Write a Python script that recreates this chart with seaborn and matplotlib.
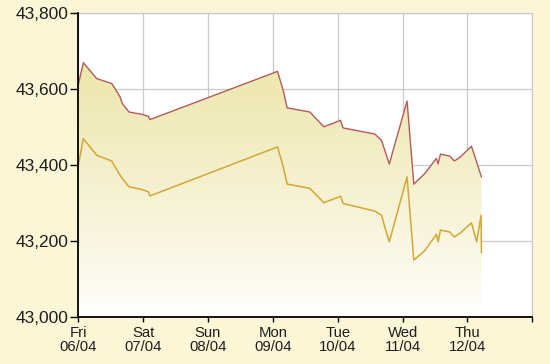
import matplotlib
matplotlib.use("Agg")
import numpy as np
import pandas as pd
import seaborn as sns
import matplotlib.pyplot as plt
from matplotlib.path import Path
from matplotlib.patches import PathPatch
from matplotlib.ticker import FuncFormatter

# ---- data (time in days since Fri 06/04 00:00) ----
day_labels = ["Fri\n06/04", "Sat\n07/04", "Sun\n08/04", "Mon\n09/04",
              "Tue\n10/04", "Wed\n11/04", "Thu\n12/04", ""]
y_ticks = [43000, 43200, 43400, 43600, 43800]

sell_t = [0.000, 0.077, 0.284, 0.515, 0.550, 0.643, 0.678, 0.781, 0.977, 1.079,
          1.105, 3.072, 3.159, 3.220, 3.570, 3.786, 4.043, 4.083, 4.572, 4.675,
          4.726, 4.795, 5.069, 5.173, 5.342, 5.522, 5.547, 5.584, 5.727, 5.797,
          5.880, 6.062, 6.216]
sell_v = [43612, 43670, 43628, 43615, 43606, 43580, 43562, 43540, 43534, 43529,
          43520, 43647, 43597, 43551, 43540, 43501, 43518, 43498, 43482, 43465,
          43439, 43403, 43569, 43350, 43378, 43418, 43403, 43429, 43424, 43411,
          43420, 43450, 43369]

buy_t = [0.000, 0.077, 0.284, 0.515, 0.550, 0.643, 0.678, 0.781, 0.977, 1.079,
         1.105, 3.072, 3.159, 3.220, 3.570, 3.786, 4.043, 4.083, 4.572, 4.675,
         4.726, 4.795, 5.069, 5.173, 5.342, 5.522, 5.547, 5.584, 5.727, 5.797,
         5.880, 6.062, 6.143, 6.210, 6.216]
buy_v = [43400, 43470, 43426, 43411, 43400, 43374, 43365, 43343, 43336, 43330,
         43319, 43448, 43396, 43350, 43339, 43301, 43318, 43299, 43279, 43268,
         43237, 43198, 43369, 43150, 43175, 43218, 43198, 43229, 43224, 43211,
         43220, 43248, 43198, 43268, 43169]

sell_df = pd.DataFrame({"t": sell_t, "v": sell_v})
buy_df = pd.DataFrame({"t": buy_t, "v": buy_v})

# ---- style ----
bg = "#FBF7D6"
grid_c = "#C9C9C9"
sell_c = "#B45A5C"
buy_c = "#D4A634"
text_c = "#1E1E1E"

sns.set_style("white")
plt.rcParams["font.family"] = ["Liberation Sans", "DejaVu Sans"]

fig = plt.figure(figsize=(5.5, 3.64), dpi=100, facecolor=bg)
ax = fig.add_axes([0.1424, 0.1291, 0.8254, 0.8344])
ax.set_facecolor("white")

ymin, ymax = 43000, 43800
xmin, xmax = 0, 7
ax.set_xlim(xmin, xmax)
ax.set_ylim(ymin, ymax)

# gradient fill under sell line
t_end = sell_t[-1]
verts = [(sell_t[0], ymin)] + list(zip(sell_t, sell_v)) + [(t_end, ymin), (sell_t[0], ymin)]
codes = [Path.MOVETO] + [Path.LINETO] * (len(verts) - 2) + [Path.CLOSEPOLY]
clip = PathPatch(Path(verts, codes), facecolor="none", edgecolor="none")
ax.add_patch(clip)
n = 256
f = np.linspace(0, 1, n) ** 0.85
top = np.array([0.925, 0.898, 0.655])
white = np.array([1.0, 1.0, 1.0])
img = white[None, :] * (1 - f[:, None]) + top[None, :] * f[:, None]
img = img[:, None, :]
im = ax.imshow(img, extent=[0, t_end, ymin, 43720], origin="lower",
               aspect="auto", zorder=1, interpolation="bilinear")
im.set_clip_path(clip)

sns.lineplot(data=sell_df, x="t", y="v", ax=ax, color=sell_c, linewidth=1.0,
             sort=False, estimator=None, zorder=3)
sns.lineplot(data=buy_df, x="t", y="v", ax=ax, color=buy_c, linewidth=1.1,
             sort=False, estimator=None, zorder=3)

ax.set_xlim(xmin, xmax)
ax.set_ylim(ymin, ymax)
ax.set_xlabel("")
ax.set_ylabel("")

ax.set_xticks(range(8))
ax.set_xticklabels(day_labels, fontsize=10.7, color=text_c, linespacing=1.0)
ax.set_yticks(y_ticks)
ax.yaxis.set_major_formatter(FuncFormatter(lambda v, p: f"{int(v):,}"))
for lab in ax.get_yticklabels():
    lab.set_fontsize(12.5)
    lab.set_color(text_c)

ax.grid(True, color=grid_c, linewidth=0.9, zorder=0)
ax.set_axisbelow(True)

ax.tick_params(axis="y", direction="out", length=6, width=1.0, color="black",
               pad=1.2, labelsize=12.5, left=True)
ax.tick_params(axis="x", direction="out", length=3.6, width=1.0, color="black",
               pad=3.0, labelsize=10.7, bottom=True)

for s in ["left", "bottom"]:
    ax.spines[s].set_color("black")
    ax.spines[s].set_linewidth(1.3)
    ax.spines[s].set_zorder(5)
for s in ["top", "right"]:
    ax.spines[s].set_color(grid_c)
    ax.spines[s].set_linewidth(0.9)

fig.savefig("out.png", dpi=100, facecolor=bg)
